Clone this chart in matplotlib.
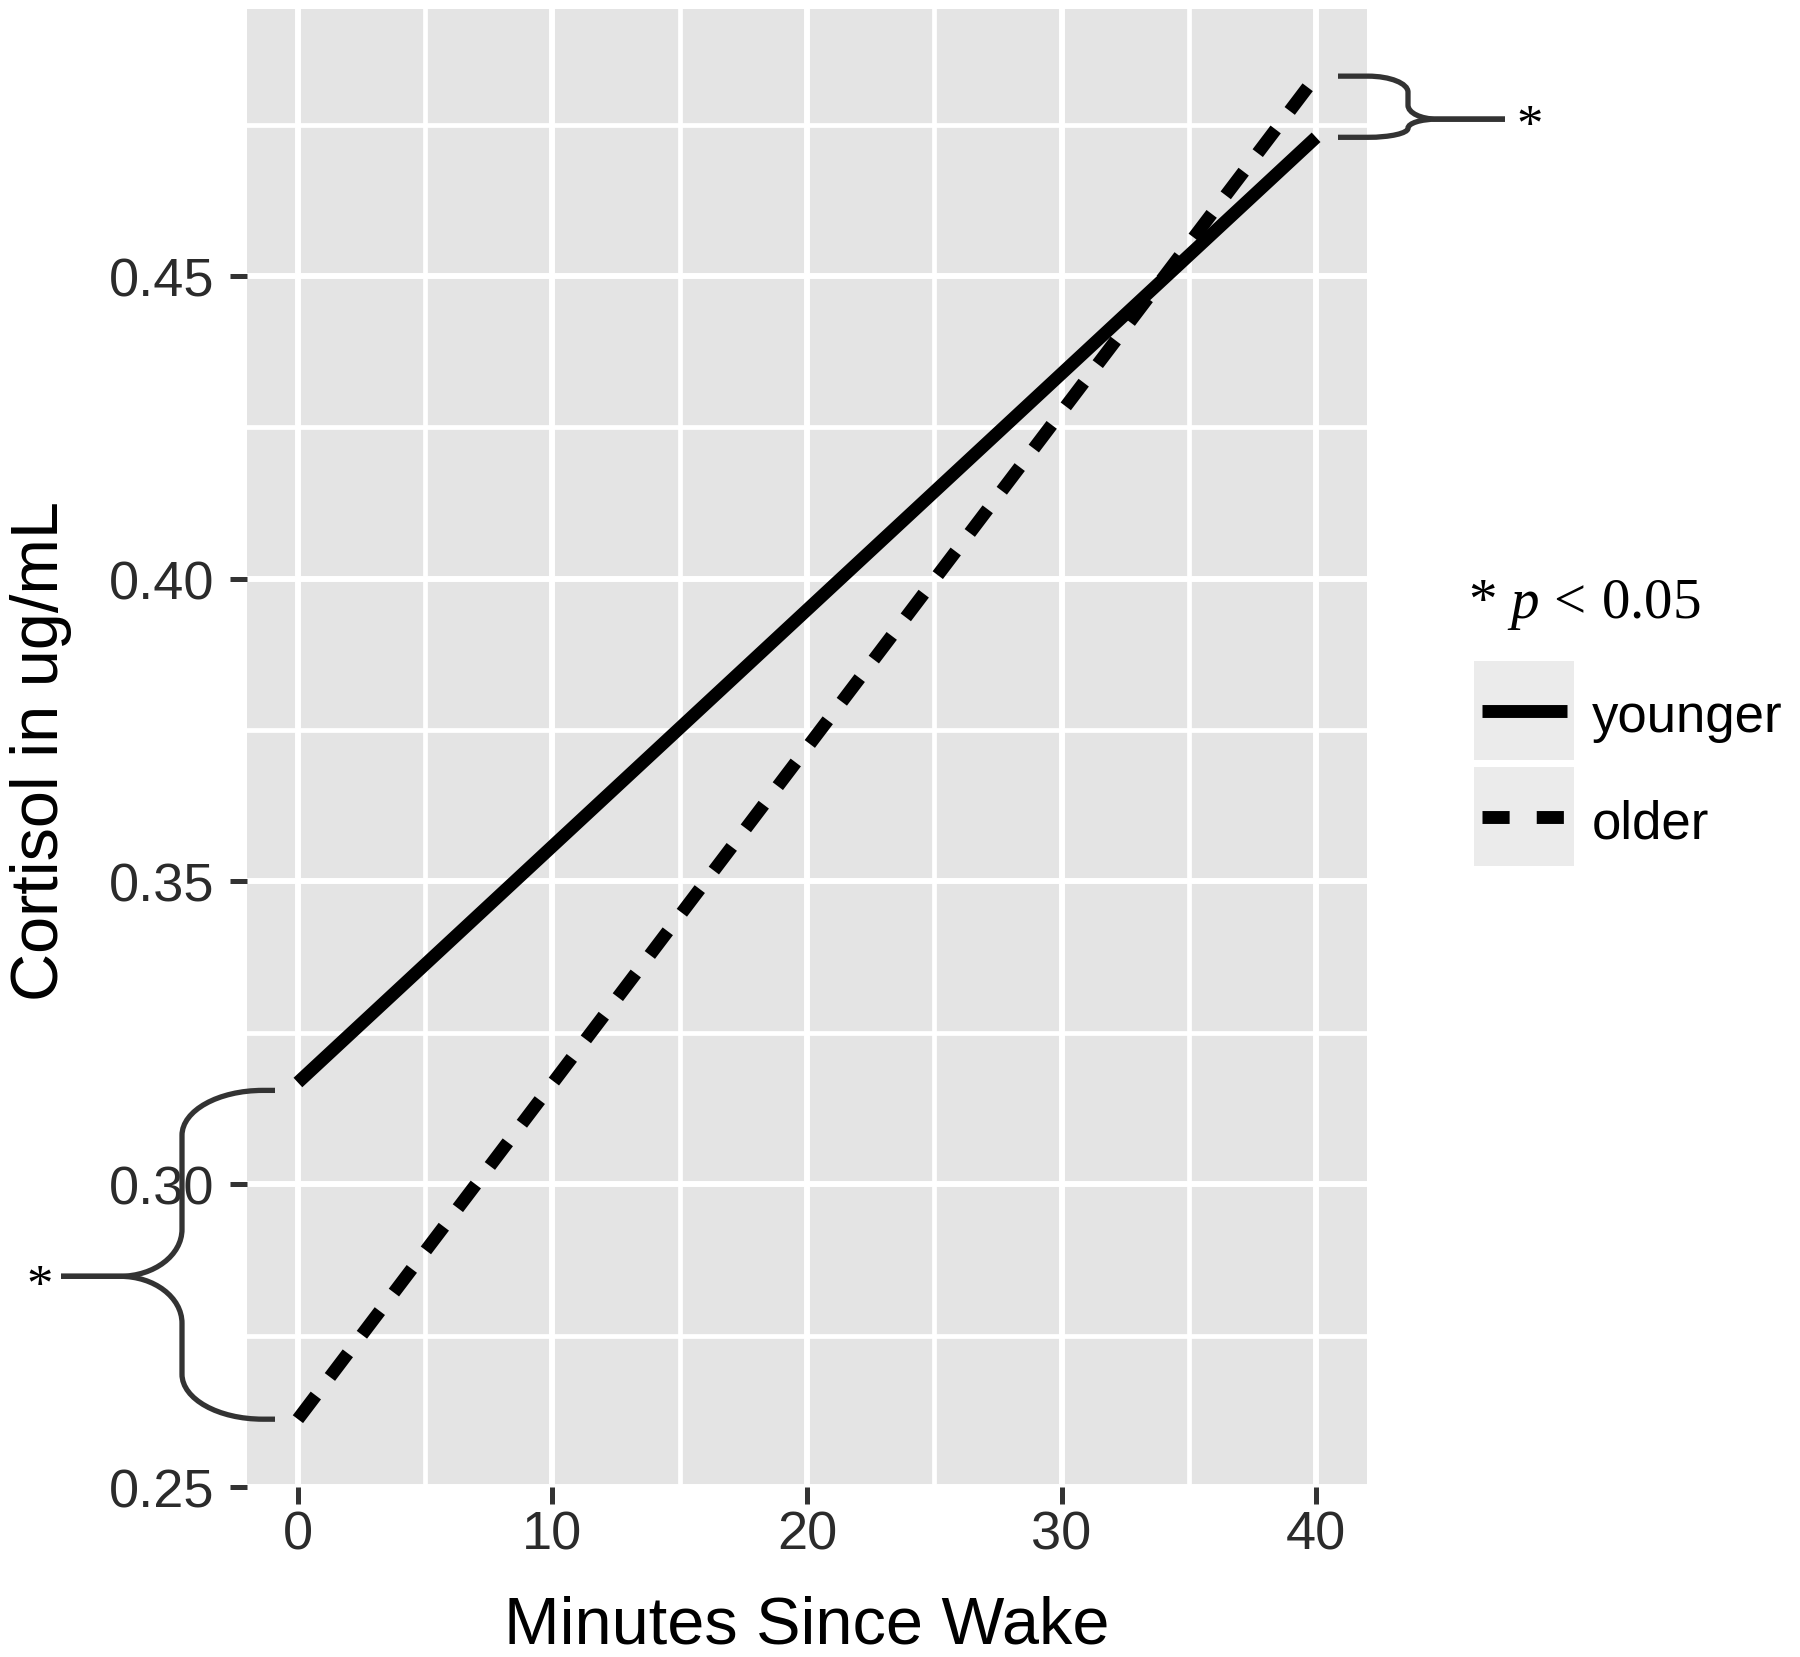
import numpy as np
import matplotlib.pyplot as plt
import matplotlib.transforms as mtransforms
from matplotlib.path import Path
from matplotlib.patches import PathPatch, Rectangle
from matplotlib.lines import Line2D

# data
minutes = [0, 40]
younger = [0.3168, 0.4729]
older = [0.2612, 0.4830]
x_ticks = [0, 10, 20, 30, 40]
y_ticks = [0.25, 0.30, 0.35, 0.40, 0.45]
group_labels = ['younger', 'older']
tip_left = 0.2848   # where the left brace points
tip_right = 0.4759  # where the right brace points

plt.rcParams['font.family'] = ['Liberation Sans', 'DejaVu Sans']
plt.rcParams['mathtext.fontset'] = 'custom'
plt.rcParams['mathtext.rm'] = 'Liberation Serif'
plt.rcParams['mathtext.it'] = 'Liberation Serif:italic'

W, H = 1800, 1658
fig = plt.figure(figsize=(W / 100, H / 100), dpi=100)


def fx(x):
    return x / W


def fy(y):
    return 1 - y / H


ax = fig.add_axes([fx(247), fy(1488), fx(1367) - fx(247), fy(10) - fy(1488)])
ax.set_facecolor('#E4E4E4')
for s in ax.spines.values():
    s.set_visible(False)

# ggplot style 5% expansion
xlo, xhi = min(minutes), max(minutes)
ylo, yhi = min(younger + older), max(younger + older)
ax.set_xlim(xlo - 0.05 * (xhi - xlo), xhi + 0.05 * (xhi - xlo))
ax.set_ylim(ylo - 0.05 * (yhi - ylo), yhi + 0.05 * (yhi - ylo))

ax.set_xticks(x_ticks)
ax.set_xticks([5, 15, 25, 35], minor=True)
ax.set_yticks(y_ticks)
ax.set_yticks([0.275, 0.325, 0.375, 0.425, 0.475], minor=True)
ax.set_xticklabels([str(v) for v in x_ticks])
ax.set_yticklabels(['%.2f' % v for v in y_ticks])
ax.grid(which='major', color='white', lw=4.3)
ax.grid(which='minor', color='white', lw=3.4)
ax.set_axisbelow(True)
ax.tick_params(which='major', length=12.5, width=3.6, color='#333333',
               labelsize=39, labelcolor='#2b2b2b')
ax.tick_params(axis='x', pad=4)
ax.tick_params(axis='y', pad=11)
ax.tick_params(which='minor', length=0)

ax.plot(minutes, younger, color='black', lw=9.3, solid_capstyle='butt')
ax.plot(minutes, older, color='black', lw=9.3, ls=(0, (2.3, 1.8)),
        dash_capstyle='butt')

# axis titles
fig.text(fx(807), fy(1644), 'Minutes Since Wake', fontsize=48,
         ha='center', va='baseline')
fig.text(fx(58), fy(751), 'Cortisol in ug/mL', fontsize=48, rotation=90,
         rotation_mode='anchor', ha='center', va='baseline')

# curly braces: x in pixels, y in data units
trans = mtransforms.blended_transform_factory(mtransforms.IdentityTransform(),
                                              ax.transData)
dpx = (ax.get_ylim()[1] - ax.get_ylim()[0]) / (1488 - 10)


def brace(x_end, x_spine, x_tip, x_tail, y_end, y_tip, b_end, b_tip, flat):
    sgn = 1 if y_end > y_tip else -1
    L = abs(y_end - y_tip) / dpx
    b1 = min(b_end, L * 0.5) * dpx * sgn
    b2 = min(b_tip, L * 0.5) * dpx * sgn
    xf = x_end - flat * np.sign(x_end - x_spine)
    k = 0.552
    verts = [(x_end, y_end), (xf, y_end),
             (xf - k * (xf - x_spine), y_end), (x_spine, y_end - (1 - k) * b1),
             (x_spine, y_end - b1),
             (x_spine, y_tip + b2),
             (x_spine, y_tip + (1 - k) * b2), (x_tip + k * (x_spine - x_tip), y_tip),
             (x_tip, y_tip),
             (x_tail, y_tip)]
    codes = [Path.MOVETO, Path.LINETO,
             Path.CURVE4, Path.CURVE4, Path.CURVE4,
             Path.LINETO,
             Path.CURVE4, Path.CURVE4, Path.CURVE4,
             Path.LINETO]
    p = PathPatch(Path(verts, codes), transform=trans, fill=False,
                  edgecolor='#333333', lw=3.8, clip_on=False, capstyle='butt')
    fig.patches.append(p)
    p.set_figure(fig)


brace(275, 182, 120, 61, younger[0] - 0.0013, tip_left, 45, 47, 12)
brace(275, 182, 120, 61, older[0], tip_left, 45, 47, 12)
brace(1338, 1408, 1437, 1505, older[-1], tip_right, 16, 14, 30)
brace(1338, 1408, 1437, 1505, younger[-1], tip_right, 14, 13, 30)
fig.text(fx(40), fy(1288), '*', fontsize=38, family='Liberation Serif',
         ha='center', va='center')
fig.text(fx(1530), fy(128), '*', fontsize=38, family='Liberation Serif',
         ha='center', va='center')

# legend
fig.text(fx(1468), fy(618), r'$*\ p\,<\,0.05$', fontsize=41, ha='left',
         va='baseline')
key_rows = [(662, 761), (768, 867)]
styles = ['-', (0, (2.1, 2.1))]
for (top, bot), lab, st in zip(key_rows, group_labels, styles):
    fig.patches.append(Rectangle((fx(1474), fy(bot)), fx(1574) - fx(1474),
                                 fy(top) - fy(bot), transform=fig.transFigure,
                                 facecolor='#EBEBEB', edgecolor='none',
                                 figure=fig))
    yc = fy((top + bot) / 2)
    fig.lines.append(Line2D([fx(1482), fx(1567)], [yc, yc], color='black',
                            lw=9.3, ls=st, solid_capstyle='butt',
                            dash_capstyle='butt', transform=fig.transFigure,
                            figure=fig))
    fig.text(fx(1592), fy((top + bot) / 2 + 21), lab, fontsize=38,
             ha='left', va='baseline')

fig.savefig('out.png', dpi=100)
